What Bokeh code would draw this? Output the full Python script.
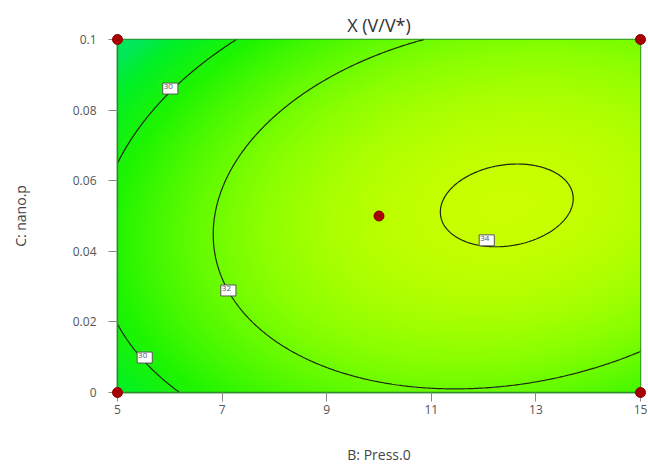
import numpy as np
from bokeh.plotting import figure
from bokeh.models import LinearColorMapper, ColumnDataSource, FixedTicker
from bokeh.core.properties import value
from bokeh.embed import file_html
from bokeh.resources import INLINE

# ---------------- data ----------------
title_text = "X (V/V*)"
x_label = "B: Press.0"
y_label = "C: nano.p"
x_ticks = [5, 7, 9, 11, 13, 15]
y_ticks = [0, 0.02, 0.04, 0.06, 0.08, 0.1]
y_tick_labels = ["0", "0.02", "0.04", "0.06", "0.08", "0.1"]
levels = [30, 32, 34]

# points (B, C)
c30a_B = [5.0, 5.38, 6.01, 6.64, 7.29]
c30a_C = [0.0657, 0.0742, 0.0861, 0.094, 0.1]
c30b_B = [5.0, 5.52, 6.15]
c30b_C = [0.0181, 0.0099, 0.0]
c32_B = [10.74, 9.93, 9.13, 7.98, 7.22, 6.80, 7.12, 7.54, 8.50, 9.78, 10.98, 11.31, 12.57, 13.85, 15.0]
c32_C = [0.1, 0.0949, 0.0892, 0.0742, 0.0609, 0.045, 0.0289, 0.0184, 0.0119, 0.0042, 0.0011, 0.0008, 0.002, 0.0054, 0.0119]
c34_B = [12.57, 11.42, 11.14, 11.37, 12.19, 13.34, 13.70, 13.41]
c34_C = [0.0649, 0.0601, 0.0524, 0.0459, 0.0416, 0.0459, 0.0558, 0.0609]

design_B = [5, 5, 15, 15, 10]
design_C = [0, 0.1, 0, 0.1, 0.05]

label_B = [6.01, 5.52, 7.12, 12.06]
label_C = [0.0861, 0.0099, 0.0289, 0.0431]
label_txt = ["30", "30", "32", "34"]

B_range = (5, 15)
C_range = (0, 0.1)

# ---------------- response surface fitted to the traced contours ----------------
pts_B = np.array(c30a_B + c30b_B + c32_B + c34_B, dtype=float)
pts_C = np.array(c30a_C + c30b_C + c32_C + c34_C, dtype=float)
pts_Z = np.array([30] * len(c30a_B) + [30] * len(c30b_B) + [32] * len(c32_B) + [34] * len(c34_B), dtype=float)
pts_W = np.array([1.0] * (len(c30a_B) + len(c30b_B) + len(c32_B)) + [4.0] * len(c34_B))


def design(Bv, Cv):
    x1 = (Bv - 10.0) / 5.0
    x2 = (Cv - 0.05) / 0.05
    return np.stack([np.ones_like(x1), x1, x2, x1 * x2, x1 ** 2, x2 ** 2,
                     x1 ** 2 * x2, x1 * x2 ** 2], axis=-1)


coef, *_ = np.linalg.lstsq(design(pts_B, pts_C) * pts_W[:, None], pts_Z * pts_W, rcond=None)

nx, ny = 300, 300
gB = np.linspace(B_range[0], B_range[1], nx)
gC = np.linspace(C_range[0], C_range[1], ny)
GB, GC = np.meshgrid(gB, gC)
Z = design(GB, GC) @ coef

# ---------------- colour palette (green -> yellow-green) ----------------
stops = [(28.3, (0, 232, 90)), (29.0, (0, 240, 40)), (30.3, (32, 245, 0)),
         (31.5, (88, 250, 0)), (32.6, (138, 255, 0)), (34.2, (205, 255, 0))]
sv = np.array([s[0] for s in stops])
sc = np.array([s[1] for s in stops], dtype=float)
pal_vals = np.linspace(sv[0], sv[-1], 256)
palette = []
for v in pal_vals:
    r = np.interp(v, sv, sc[:, 0]); g = np.interp(v, sv, sc[:, 1]); b = np.interp(v, sv, sc[:, 2])
    palette.append("#%02x%02x%02x" % (int(r), int(g), int(b)))
mapper = LinearColorMapper(palette=palette, low=sv[0], high=sv[-1])

# ---------------- figure ----------------
p = figure(width=648, height=467, x_range=B_range, y_range=C_range,
           output_backend="svg", toolbar_location=None,
           min_border_left=117, min_border_right=8, min_border_top=39, min_border_bottom=75)

p.image(image=[Z], x=B_range[0], y=C_range[0], dw=B_range[1] - B_range[0],
        dh=C_range[1] - C_range[0], color_mapper=mapper)
p.contour(x=gB, y=gC, z=Z, levels=levels, line_color="#1c2a10", line_width=1.2, fill_color=None)

lab_src = ColumnDataSource(dict(x=label_B, y=label_C, t=label_txt))
p.text(x="x", y="y", text="t", source=lab_src, text_font=value("Open Sans"),
       text_font_size="8px", text_align="center", text_baseline="middle",
       text_color="#555555", background_fill_color="white",
       border_line_color="#555555", border_line_width=1, padding=[1, 5, 1, 5])

pts = p.scatter(design_B, design_C, size=10, fill_color="#a80000", line_color="#8a0000")
pts.level = "overlay"

p.title.text = title_text
p.title.align = "center"
p.title.text_font = "Open Sans"
p.title.text_font_size = "18px"
p.title.text_font_style = "normal"
p.title.text_color = "#333333"
p.title.standoff = 6

p.grid.grid_line_color = None
p.outline_line_color = "#2e8b2e"
p.outline_line_width = 1.5

for ax in (p.xaxis[0], p.yaxis[0]):
    ax.axis_line_color = "#2e8b2e"
    ax.axis_line_width = 1.5
    ax.major_tick_in = 0
    ax.major_tick_out = 9
    ax.major_tick_line_color = "#888888"
    ax.minor_tick_line_color = None
    ax.major_label_text_font = "Open Sans"
    ax.major_label_text_font_size = "12px"
    ax.major_label_text_color = "#555555"
    ax.axis_label_text_font = "Open Sans"
    ax.axis_label_text_font_size = "14px"
    ax.axis_label_text_font_style = "normal"
    ax.axis_label_text_color = "#444444"

p.xaxis.ticker = FixedTicker(ticks=x_ticks)
p.yaxis.ticker = FixedTicker(ticks=y_ticks)
p.yaxis.major_label_overrides = {t: s for t, s in zip(y_ticks, y_tick_labels)}
p.xaxis.axis_label = x_label
p.yaxis.axis_label = y_label
p.xaxis.axis_label_standoff = 28
p.yaxis.axis_label_standoff = 40
p.xaxis.major_label_standoff = 3
p.yaxis.major_label_standoff = 12

open("out.html", "w").write(file_html(p, INLINE))
